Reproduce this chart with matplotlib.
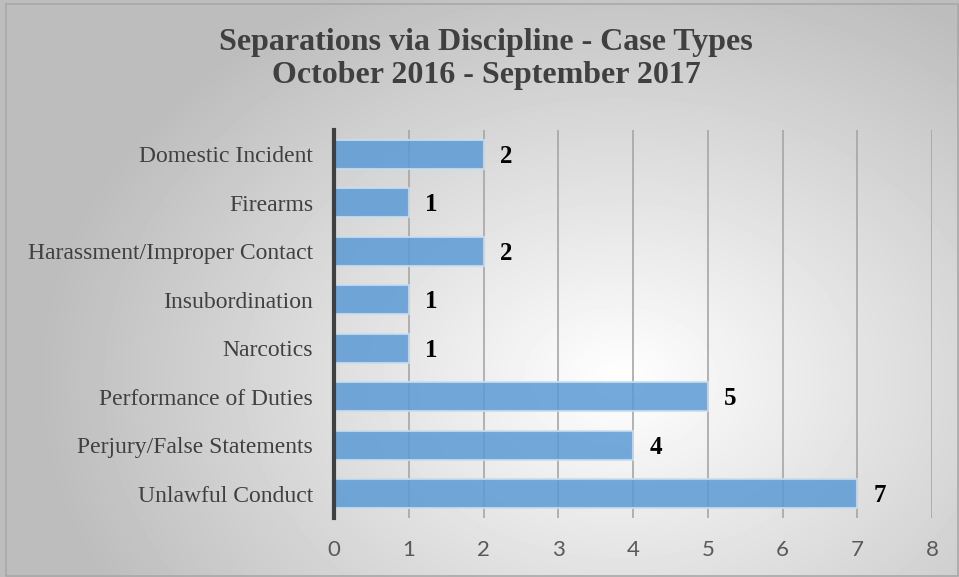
import matplotlib.pyplot as plt
import numpy as np

# data
categories = ['Domestic Incident', 'Firearms', 'Harassment/Improper Contact',
              'Insubordination', 'Narcotics', 'Performance of Duties',
              'Perjury/False Statements', 'Unlawful Conduct']
counts = [2, 1, 2, 1, 1, 5, 4, 7]
x_ticks = [0, 1, 2, 3, 4, 5, 6, 7, 8]

W, H = 959, 577
fig = plt.figure(figsize=(W / 100, H / 100), dpi=100)

# radial gradient background
bg = fig.add_axes([0, 0, 1, 1])
yy, xx = np.mgrid[0:H, 0:W]
r = np.sqrt(((xx - 620) / 560.0) ** 2 + ((yy - 380) / 420.0) ** 2)
shade = np.clip(1.0 - 0.25 * r, 0.74, 1.0)
bg.imshow(shade, cmap='gray', vmin=0, vmax=1, aspect='auto', extent=[0, W, H, 0])
bg.plot([6, W - 1, W - 1, 6, 6], [4, 4, H - 1, H - 1, 4], color='#a8a8a8', lw=1.2)
bg.set_xlim(0, W)
bg.set_ylim(H, 0)
bg.axis('off')

ax = fig.add_axes([334 / W, 1 - 518 / H, (932 - 334) / W, (518 - 130) / H])
ax.set_facecolor('none')

y = np.arange(len(categories))
ax.barh(y, counts, height=0.6, color='#5b9bd5', alpha=0.85,
        edgecolor='#c9ddf0', linewidth=1.5, zorder=3)

for yi, v in zip(y, counts):
    ax.text(v + 0.22, yi + 0.04, str(v), va='center', ha='left', fontsize=18,
            fontweight='bold', family='Liberation Serif', color='black', zorder=4)

ax.set_xlim(0, 8)
ax.set_ylim(len(categories) - 0.5, -0.5)
ax.set_xticks(x_ticks)
ax.set_yticks(y)
ax.set_yticklabels(categories, family='Liberation Serif', fontsize=17, color='#404040')
ax.set_xticklabels([str(t) for t in x_ticks], family='Lato', fontsize=16, color='#595959')
ax.tick_params(axis='both', length=0)
ax.tick_params(axis='y', pad=15)
ax.tick_params(axis='x', pad=16)
ax.grid(axis='x', color='#a6a6a6', linewidth=1.2, zorder=1)
for s in ['top', 'right', 'bottom']:
    ax.spines[s].set_visible(False)
ax.spines['left'].set_color('#404040')
ax.spines['left'].set_linewidth(3)
ax.spines['left'].set_zorder(5)

fig.text(486 / W, 1 - 59 / H, 'Separations via Discipline - Case Types\nOctober 2016 - September 2017',
         ha='center', va='center', fontsize=23, fontweight='bold',
         family='Liberation Serif', color='#404040', linespacing=1.22)

fig.savefig('out.png', dpi=100)
